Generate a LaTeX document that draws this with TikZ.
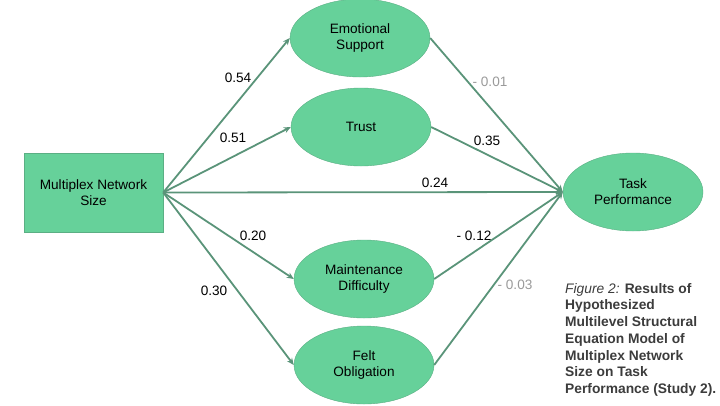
\documentclass[tikz,border=0pt]{standalone}
\usepackage{fontspec}
\setmainfont{Liberation Sans}
\usepackage{xcolor}
\usetikzlibrary{arrows.meta,shapes.geometric}
\definecolor{mint}{HTML}{66D19A}
\definecolor{mintedge}{HTML}{5BAF84}
\definecolor{pathgreen}{HTML}{5A9479}
\definecolor{faint}{HTML}{9A9A9A}
\definecolor{capgray}{HTML}{3C3C3C}

\begin{document}
\begin{tikzpicture}[x=1pt,y=-1pt,>={Stealth[length=7pt,width=6pt]},
  every node/.style={font=\fontsize{13.6}{16}\selectfont},
  latent/.style={ellipse,draw=mintedge,fill=mint,minimum width=140pt,minimum height=78pt,inner sep=0pt,align=center},
  observed/.style={rectangle,draw=mintedge,fill=mint,minimum width=139pt,minimum height=79pt,inner sep=0pt,align=center},
  path/.style={draw=pathgreen,line width=1.8pt},
  coef/.style={text=black,inner sep=0pt},
  weak/.style={text=faint,inner sep=0pt}]
  \useasboundingbox (0,0) rectangle (720,405);
  \node[observed] (net) at (93.5,192.5) {Multiplex Network\\Size};
  \node[latent] (es) at (360,38) {Emotional\\Support};
  \node[latent] (trust) at (361,127) {Trust};
  \node[latent] (md) at (364,279) {Maintenance\\Difficulty};
  \node[latent] (fo) at (364,365) {Felt\\Obligation};
  \node[latent] (tp) at (633,192) {Task\\Performance};
  \draw[path,->] (net.east) -- (es.west);
  \draw[path,->] (net.east) -- (trust.west);
  \draw[path,->] (net.east) -- (md.west);
  \draw[path,->] (net.east) -- (fo.west);
  \draw[path,->] (net.east) -- (tp.west);
  \draw[path,->] (es.east) -- (tp.west);
  \draw[path,->] (trust.east) -- (tp.west);
  \draw[path,->] (md.east) -- (tp.west);
  \draw[path,->] (fo.east) -- (tp.west);
  \node[coef] (c1) at (238,78) {0.54};
  \node[coef] (c2) at (233,138) {0.51};
  \node[weak] (c3) at (490,82) {- 0.01};
  \node[coef] (c4) at (487,141) {0.35};
  \node[coef] (c5) at (435,183) {0.24};
  \node[coef] (c6) at (253,236) {0.20};
  \node[coef] (c7) at (474,236) {- 0.12};
  \node[coef] (c8) at (214,291) {0.30};
  \node[weak] (c9) at (515,285) {- 0.03};
  \node[anchor=north west,align=left,inner sep=0pt,text=capgray,font=\fontsize{13.8}{16.7}\selectfont] (cap) at (565,283)
    {\textit{Figure 2:} \textbf{Results of}\\\textbf{Hypothesized}\\\textbf{Multilevel Structural}\\\textbf{Equation Model of}\\\textbf{Multiplex Network}\\\textbf{Size on Task}\\\textbf{Performance (Study 2).}};
\end{tikzpicture}
\end{document}
